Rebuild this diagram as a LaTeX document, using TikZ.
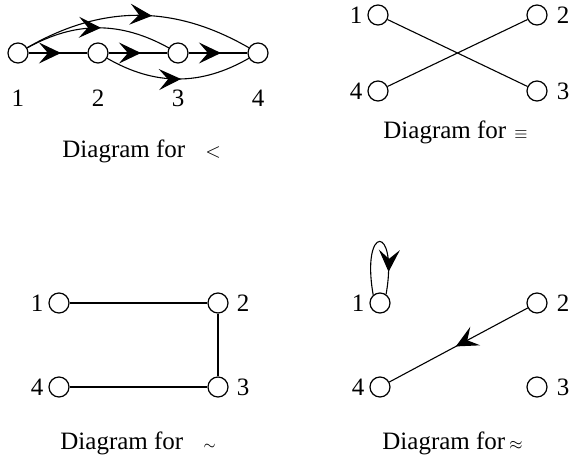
\documentclass[tikz,border=0pt]{standalone}
\usepackage{fontspec}
\setmainfont{Liberation Serif}
\usetikzlibrary{arrows.meta,decorations.markings}

\begin{document}
\begin{tikzpicture}[
  x=0.5pt, y=0.5pt,
  font=\fontsize{12.5}{15}\selectfont,
  vtx/.style={draw, circle, line width=0.6pt, minimum size=10pt, inner sep=0},
  lbl/.style={inner sep=0},
  captxt/.style={anchor=base west, inner sep=0},
  edg/.style={line width=0.55pt},
  midarr/.style={edg, postaction={decorate}, decoration={markings,
      mark=at position #1 with {\arrow{Stealth[length=11pt,width=10.5pt,inset=4.5pt]}}}},
  midarr/.default=0.5,
]
\useasboundingbox (0,0) rectangle (573,-455);
% --- diagram for < (top left) ---
\foreach \i/\x in {1/18,2/98,3/178,4/258} {
  \node[vtx] (a\i) at (\x,-53) {};
  \node[lbl] (na\i) at (\x,-98) {\i};
}
\draw[midarr=0.55] (a1) -- (a2);
\draw[midarr=0.55] (a2) -- (a3);
\draw[midarr=0.55] (a3) -- (a4);
\draw[midarr=0.52] (a1) to[bend left=29] (a3);
\draw[midarr=0.56] (a1) to[bend left=30] (a4);
\draw[midarr=0.52] (a2) to[bend right=30] (a4);
\node[captxt] (capa) at (62,-157) {Diagram for\hspace{10pt}{\fontsize{10}{12}\selectfont$<$}};
% --- diagram for = (top right) ---
\node[vtx] (b1) at (378,-15) {};
\node[vtx] (b2) at (537,-15) {};
\node[vtx] (b3) at (537,-91) {};
\node[vtx] (b4) at (378,-91) {};
\node[lbl] (nb1) at (356,-15) {1};
\node[lbl] (nb2) at (563,-15) {2};
\node[lbl] (nb3) at (563,-91) {3};
\node[lbl] (nb4) at (356,-91) {4};
\draw[edg] (b1) -- (b3);
\draw[edg] (b4) -- (b2);
\node[captxt] (capb) at (383,-138) {Diagram for\hspace{4pt}{\fontsize{8}{10}\selectfont$\equiv$}};
% --- diagram for ~ (bottom left) ---
\node[vtx] (c1) at (59,-303) {};
\node[vtx] (c2) at (218,-303) {};
\node[vtx] (c3) at (218,-387) {};
\node[vtx] (c4) at (59,-387) {};
\node[lbl] (nc1) at (37,-303) {1};
\node[lbl] (nc2) at (243,-303) {2};
\node[lbl] (nc3) at (243,-387) {3};
\node[lbl] (nc4) at (37,-387) {4};
\draw[edg] (c1) -- (c2);
\draw[edg] (c2) -- (c3);
\draw[edg] (c4) -- (c3);
\node[captxt] (capc) at (60,-449) {Diagram for\hspace{10pt}{\fontsize{7}{9}\selectfont$\sim$}};
% --- diagram for ~~ (bottom right) ---
\node[vtx] (d1) at (380,-303) {};
\node[vtx] (d2) at (537,-303) {};
\node[vtx] (d3) at (537,-387) {};
\node[vtx] (d4) at (380,-387) {};
\node[lbl] (nd1) at (358,-303) {1};
\node[lbl] (nd2) at (563,-303) {2};
\node[lbl] (nd3) at (563,-387) {3};
\node[lbl] (nd4) at (358,-387) {4};
\draw[midarr=0.8] (d1.130) to[out=100, in=80, distance=36pt] (d1.55);
\draw[midarr=0.52] (d2) -- (d4);
\node[captxt] (capd) at (382,-449) {Diagram for\hspace{2pt}{\fontsize{8}{10}\selectfont$\approx$}};
\end{tikzpicture}
\end{document}
